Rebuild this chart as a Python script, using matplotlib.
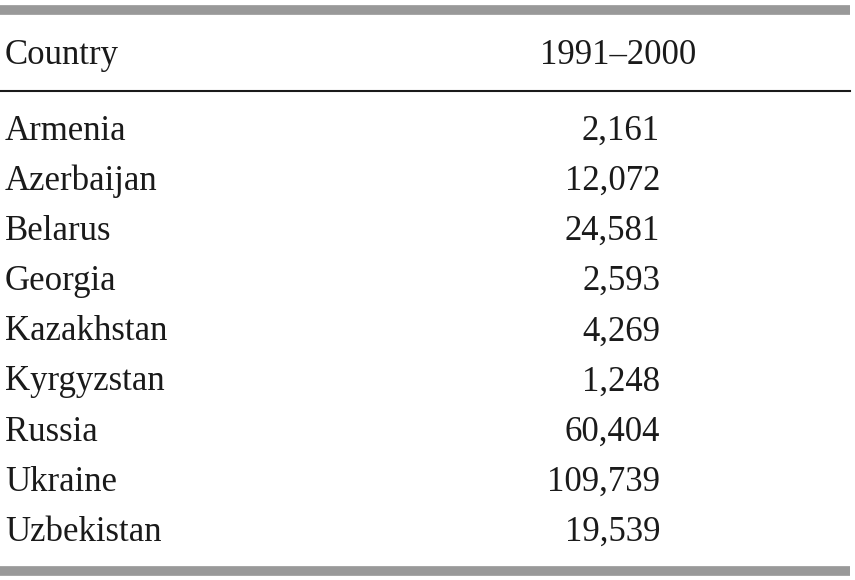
import matplotlib.pyplot as plt

countries = ["Armenia", "Azerbaijan", "Belarus", "Georgia", "Kazakhstan",
             "Kyrgyzstan", "Russia", "Ukraine", "Uzbekistan"]
values = [2161, 12072, 24581, 2593, 4269, 1248, 60404, 109739, 19539]
header = ["Country", "1991\u20132000"]

W, H = 855, 580
fig = plt.figure(figsize=(W / 100, H / 100), dpi=100)
ax = fig.add_axes([0, 0, 1, 1])
ax.set_xlim(0, W)
ax.set_ylim(H, 0)
ax.axis("off")

font = dict(family="Liberation Serif", fontsize=25, color="#1a1a1a")

# rules
ax.plot([0, 850], [10, 10], color="#999999", lw=7, solid_capstyle="butt")
ax.plot([0, 850], [91, 91], color="#1a1a1a", lw=1.5)
ax.plot([0, 850], [571, 571], color="#999999", lw=7, solid_capstyle="butt")

ax.text(5, 55, header[0], ha="left", va="center", **font)
ax.text(618, 55, header[1], ha="center", va="center", **font)

for i, (c, v) in enumerate(zip(countries, values)):
    y = 131 + i * 50.2
    ax.text(5, y, c, ha="left", va="center", **font)
    ax.text(660, y, f"{v:,}", ha="right", va="center", **font)

fig.savefig("out.png", dpi=100)
